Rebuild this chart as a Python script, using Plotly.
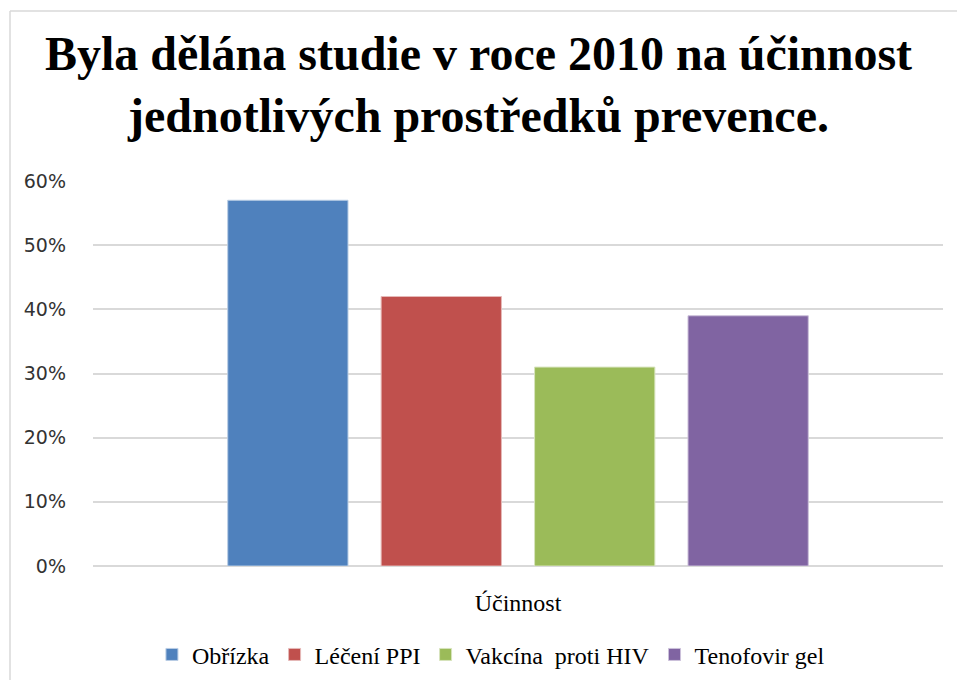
import plotly.graph_objects as go

# Data
category = ["Účinnost"]
series_names = ["Obřízka", "Léčení PPI", "Vakcína  proti HIV", "Tenofovir gel"]
series_values = [0.57, 0.42, 0.31, 0.39]
series_colors = ["#4F81BD", "#C0504D", "#9BBB59", "#8064A2"]
edge_colors = ["#B9CDE5", "#E6B9B8", "#D7E4BD", "#CCC1DA"]
y_ticks = [0, 0.1, 0.2, 0.3, 0.4, 0.5, 0.6]

serif = "Liberation Serif, Times New Roman, serif"

fig = go.Figure()
for name, val, col, edge in zip(series_names, series_values, series_colors, edge_colors):
    fig.add_trace(go.Bar(
        x=category,
        y=[val],
        name=name,
        marker=dict(color=col, line=dict(color=edge, width=1)),
        hovertemplate='%{y:.0%}<extra>' + name + '</extra>'
    ))

fig.update_layout(
    width=957,
    height=680,
    barmode='group',
    bargap=0.278,
    bargroupgap=0.216,
    paper_bgcolor='white',
    plot_bgcolor='white',
    margin=dict(l=93, r=14, t=181, b=114),
    title=dict(
        text='<b>Byla dělána studie v roce 2010 na účinnost<br>jednotlivých prostředků prevence.</b>',
        font=dict(family=serif, size=48, color='black'),
        xref='container', x=0.5, xanchor='center',
        yref='container', y=0.897, yanchor='top',
    ),
    showlegend=True,
    legend=dict(
        orientation='h',
        xref='container', x=0.513, xanchor='center',
        yref='container', y=0.037, yanchor='middle',
        font=dict(family=serif, size=24, color='black'),
        itemwidth=30,
        traceorder='normal',
    ),
    shapes=[
        # chart frame (top and left edges visible)
        dict(type='line', xref='paper', yref='paper',
             x0=(10 - 93) / 850, x1=1.2, y0=(566 - 11) / 385, y1=(566 - 11) / 385,
             line=dict(color='#D9D9D9', width=1.5)),
        dict(type='line', xref='paper', yref='paper',
             x0=(10 - 93) / 850, x1=(10 - 93) / 850, y0=-0.5, y1=(566 - 11) / 385,
             line=dict(color='#D9D9D9', width=1.5)),
    ],
)

fig.update_xaxes(
    showgrid=False,
    showline=False,
    ticks='',
    ticklabelstandoff=20,
    tickfont=dict(family=serif, size=24, color='black'),
)

fig.update_yaxes(
    range=[0, 0.6],
    tickvals=y_ticks,
    tickformat='.0%',
    showgrid=True,
    gridcolor='#D9D9D9',
    gridwidth=1.5,
    zeroline=True,
    zerolinecolor='#D9D9D9',
    zerolinewidth=1.5,
    showline=False,
    ticks='',
    ticklabelstandoff=26,
    tickfont=dict(family='DejaVu Sans, Tahoma, sans-serif', size=19, color='#333333'),
)

fig.write_html("out.html", config={'displayModeBar': False},
               post_script="document.body.style.margin='0';")
